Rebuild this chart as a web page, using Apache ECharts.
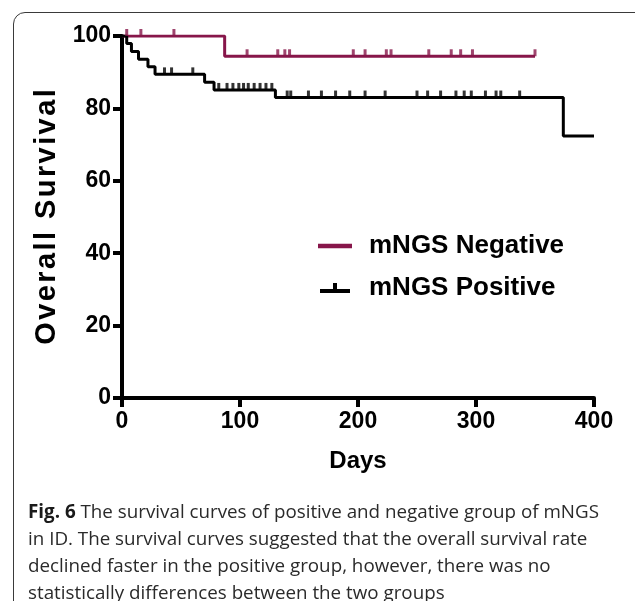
<!DOCTYPE html>
<html>
<head>
<meta charset="utf-8">
<script src="https://cdn.jsdelivr.net/npm/echarts@6/dist/echarts.min.js"></script>
<style>
  html, body { margin: 0; padding: 0; background: #fff; }
  #wrap { position: relative; width: 635px; height: 601px; overflow: hidden; }
  #frame {
    position: absolute; left: 13px; top: 12px; width: 640px; height: 700px;
    border: 1.5px solid #3a3a3a; border-radius: 12px; box-sizing: border-box;
  }
  #chart { position: absolute; left: 0; top: 0; width: 635px; height: 601px; }
  #caption {
    position: absolute; left: 28px; top: 498px; width: 610px;
    font-family: "Open Sans", "Noto Sans", sans-serif; font-size: 18.8px;
    line-height: 27px; color: #2a2a2a; white-space: nowrap;
  }
  #caption b { color: #1a1a1a; }
</style>
</head>
<body>
<div id="wrap">
  <div id="frame"></div>
  <div id="chart"></div>
  <div id="caption"><b>Fig. 6</b> The survival curves of positive and negative group of mNGS<br>in ID. The survival curves suggested that the overall survival rate<br>declined faster in the positive group, however, there was no<br>statistically differences between the two groups</div>
</div>
<script>
  // Kaplan-Meier steps (days, survival %)
  const negTimes = [0, 87, 350];
  const negSurv = [100, 94.4, 94.4];
  const negCensored = [4, 16, 44, 106, 132, 138, 142, 196, 206, 224, 228, 260, 279, 287, 297, 350];

  const posTimes = [0, 4, 8, 14, 22, 28, 70, 78, 130, 374, 400];
  const posSurv = [100, 97.9, 95.7, 93.6, 91.5, 89.4, 87.2, 85.1, 83.0, 72.4, 72.4];
  const posCensored = [36, 42, 60, 82, 89, 94, 99, 103, 107, 112, 117, 122, 127,
    140, 143, 158, 169, 181, 193, 206, 223, 250, 259, 270, 283, 290, 296, 308, 317, 321, 337];

  const xTicks = [0, 100, 200, 300, 400];

  const negColor = "#87164a";
  const posColor = "#000000";

  // survival level at time t from the step table
  function levelAt(times, surv, t) {
    let v = surv[0];
    for (let i = 0; i < times.length; i++) {
      if (times[i] <= t) v = surv[i];
    }
    return v;
  }

  const negLine = negTimes.map((t, i) => [t, negSurv[i]]);
  const posLine = posTimes.map((t, i) => [t, posSurv[i]]);
  const negMarks = negCensored.map(t => [t, levelAt(negTimes, negSurv, t)]);
  const posMarks = posCensored.map(t => [t, levelAt(posTimes, posSurv, t)]);

  const sans = "'Liberation Sans', Arial, sans-serif";
  const tickFont = { fontFamily: sans, fontWeight: "bold", fontSize: 23, color: "#000" };

  // letter spaced axis title (hair spaces between letters)
  const yTitle = "Overall Survival".split("").join("\u200A");

  const chart = echarts.init(document.getElementById("chart"), null, { renderer: "canvas" });
  chart.setOption({
    animation: false,
    grid: { left: 122, right: 41, top: 36, bottom: 203, containLabel: false },
    legend: {
      orient: "vertical",
      left: 313,
      top: 228,
      itemWidth: 34,
      itemHeight: 10,
      itemGap: 16,
      textStyle: {
        fontFamily: sans,
        fontWeight: "bold",
        fontSize: 26,
        color: "#000",
        padding: [0, 0, 0, 12]
      },
      data: [
        { name: "mNGS Negative", icon: "path://M0,6h30v4h-30z" },
        { name: "mNGS Positive", icon: "path://M0,6h30v4h-30z M13,0h4v6h-4z" }
      ]
    },
    xAxis: {
      type: "value",
      min: 0,
      max: 400,
      interval: 100,
      name: "Days",
      nameLocation: "middle",
      nameGap: 51,
      nameTextStyle: { fontFamily: sans, fontWeight: "bold", fontSize: 24, color: "#000" },
      axisLine: { show: true, lineStyle: { color: "#000", width: 4 } },
      axisTick: { show: true, length: 9, lineStyle: { color: "#000", width: 4 } },
      axisLabel: Object.assign({ margin: 12, customValues: xTicks }, tickFont),
      splitLine: { show: false }
    },
    yAxis: {
      type: "value",
      min: 0,
      max: 100,
      interval: 20,
      name: yTitle,
      nameLocation: "middle",
      nameGap: 45,
      nameRotate: 90,
      nameTextStyle: { fontFamily: sans, fontWeight: "bold", fontSize: 29, color: "#000" },
      axisLine: { show: true, lineStyle: { color: "#000", width: 4 } },
      axisTick: { show: true, length: 9, lineStyle: { color: "#000", width: 4 } },
      axisLabel: Object.assign({ margin: 11 }, tickFont),
      splitLine: { show: false }
    },
    series: [
      {
        name: "mNGS Negative",
        type: "line",
        step: "end",
        data: negLine,
        color: negColor,
        showSymbol: false,
        lineStyle: { width: 3, color: negColor },
        z: 3
      },
      {
        name: "mNGS Positive",
        type: "line",
        step: "end",
        data: posLine,
        color: posColor,
        showSymbol: false,
        lineStyle: { width: 3, color: posColor },
        z: 3
      },
      {
        name: "neg censored",
        type: "scatter",
        data: negMarks,
        symbol: "rect",
        symbolSize: [3, 7],
        symbolOffset: [0, -3.5],
        itemStyle: { color: negColor },
        z: 4
      },
      {
        name: "pos censored",
        type: "scatter",
        data: posMarks,
        symbol: "rect",
        symbolSize: [3, 7],
        symbolOffset: [0, -3.5],
        itemStyle: { color: posColor },
        z: 4
      }
    ]
  });
</script>
</body>
</html>
